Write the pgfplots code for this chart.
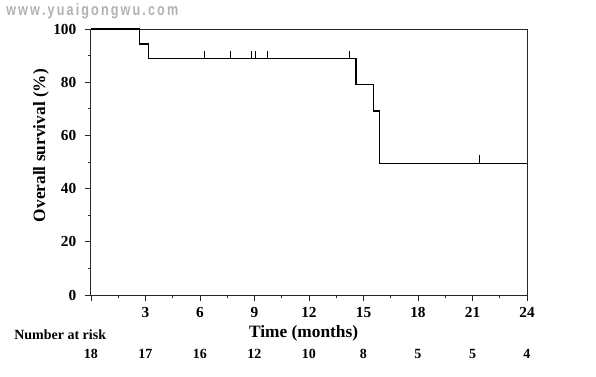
\documentclass[border=0pt]{standalone}
\usepackage{fontspec}
\setmainfont{Liberation Serif}
\newfontfamily\wmfont{Liberation Sans}
\usepackage{pgfplots}
\pgfplotsset{compat=1.18}
\pgfdeclareplotmark{cens}{\pgfpathmoveto{\pgfpointorigin}\pgfpathlineto{\pgfpoint{0pt}{6pt}}\pgfusepathqstroke}
\tikzset{risk/.style={font=\fontsize{10.5}{12}\selectfont\bfseries, inner sep=0pt}}
\begin{document}
\begin{tikzpicture}
\path[use as bounding box] (-68.25pt,-60.75pt) rectangle (378.75pt,221.25pt);
\node[anchor=west, text=black!30, inner sep=0pt] at (-63.75pt,212.5pt) {\resizebox{129pt}{9pt}{\wmfont\bfseries w\,w\,w\,.\,y\,u\,a\,i\,g\,o\,n\,g\,w\,u\,.\,c\,o\,m}};
\begin{axis}[
  at={(0,0)}, anchor=south west,
  scale only axis, width=327pt, height=199.5pt,
  xmin=0, xmax=24, ymin=0, ymax=100,
  xtick={0,3,...,24},
  xticklabels={,3,6,9,12,15,18,21,24},
  ytick={0,20,...,100},
  minor x tick num=1, minor y tick num=1,
  tick align=outside,
  xtick pos=bottom, ytick pos=left,
  major tick length=4.5pt, minor tick length=2.5pt,
  axis line style={black!85, line width=0.75pt},
  tick style={black!85, line width=0.7pt},
  /pgf/number format/assume math mode=true,
  tick label style={font=\fontsize{11.5}{12}\selectfont\bfseries},
  xticklabel style={yshift=-1.5pt},
  yticklabel style={xshift=-3pt},
  xlabel={Time (months)},
  ylabel={Overall survival (\%)},
  label style={font=\fontsize{13}{14}\selectfont\bfseries},
  xlabel style={at={(axis description cs:0.5,0)}, anchor=center, yshift=-28.5pt, xshift=-4pt},
  ylabel style={at={(axis description cs:0,0.562)}, anchor=center, rotate=0, yshift=37.5pt},
  clip=false,
]
\addplot[const plot, black, line width=1.2pt] coordinates {
 (0,100) (2.66,94.4) (3.17,88.9) (14.58,79.2) (15.56,69.2) (15.87,49.5) (24,49.5)
};
\addplot[only marks, mark=cens, black, line width=0.8pt] coordinates {
 (6.26,88.9) (7.69,88.9) (8.81,88.9) (9.06,88.9) (9.72,88.9) (14.25,88.9) (21.41,49.5)
};
\node[risk, anchor=west] at ([xshift=-57.75pt,yshift=-30pt]axis cs:0,0) {Number at risk};
\node[risk] at ([yshift=-44.25pt]axis cs:0,0) {18};
\node[risk] at ([yshift=-44.25pt]axis cs:3,0) {17};
\node[risk] at ([yshift=-44.25pt]axis cs:6,0) {16};
\node[risk] at ([yshift=-44.25pt]axis cs:9,0) {12};
\node[risk] at ([yshift=-44.25pt]axis cs:12,0) {10};
\node[risk] at ([yshift=-44.25pt]axis cs:15,0) {8};
\node[risk] at ([yshift=-44.25pt]axis cs:18,0) {5};
\node[risk] at ([yshift=-44.25pt]axis cs:21,0) {5};
\node[risk] at ([yshift=-44.25pt]axis cs:24,0) {4};
\end{axis}
\end{tikzpicture}
\end{document}
